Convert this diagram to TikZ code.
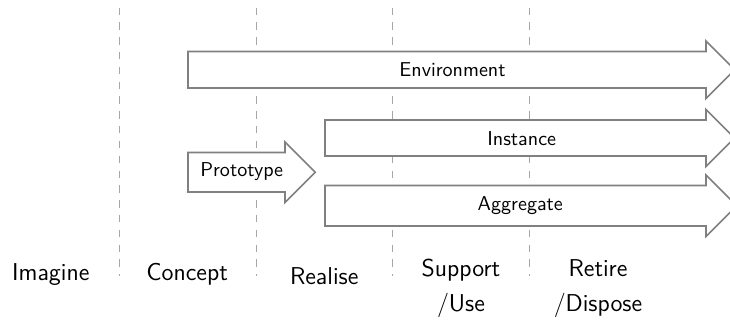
\documentclass[tikz,border=0pt]{standalone}
\usepackage{fontspec}
\begin{document}
\begin{tikzpicture}[x=0.5128pt,y=-0.5128pt,
  phaseline/.style={draw=black!35, line width=0.5pt, dash pattern=on 3.8pt off 3.8pt},
  lifearrow/.style={draw=black!50, fill=white, line width=0.8pt, line join=miter},
  boxtext/.style={font=\sffamily\fontsize{10.3}{12}\selectfont, inner sep=0pt, anchor=base},
  phasetext/.style={font=\sffamily\fontsize{12.5}{18}\selectfont, inner sep=0pt, anchor=base, align=center}]
\useasboundingbox (0,0) rectangle (730,323);
\clip (0,0) rectangle (730,323);
% phase separators
\foreach \px/\nm in {119/a,256/b,392/c,529/d}{
  \coordinate (top\nm) at (\px,7.5);
  \coordinate (bot\nm) at (\px,276);
  \draw[phaseline] (top\nm) -- (bot\nm);
}
\newcommand\lifearrowpath[4]{%
  \draw[lifearrow] (#1,#3) -- (#2,#3) -- (#2,#3-10.5)
    -- ({#2+(#4-#3)/2+10.5},{(#3+#4)/2}) -- (#2,#4+10.5) -- (#2,#4) -- (#1,#4) -- cycle;}
\lifearrowpath{188}{706}{51.5}{88}
\lifearrowpath{325}{706}{120}{156}
\lifearrowpath{325}{706}{185.5}{226}
\lifearrowpath{188}{285}{152.5}{192}
\node[boxtext] (env) at (452.5,76) {Environment};
\node[boxtext] (inst) at (521.7,145.7) {Instance};
\node[boxtext] (aggr) at (520.3,210.7) {Aggregate};
\node[boxtext] (proto) at (241.7,176.7) {Prototype};
\node[phasetext] (imagine) at (50.8,280.7) {Imagine};
\node[phasetext] (concept) at (187.2,280.7) {Concept};
\node[phasetext] (realise) at (324.2,284) {Realise};
\node[phasetext] (support) at (461,311.7) {Support\\/Use};
\node[phasetext] (retire) at (598,311.7) {Retire\\/Dispose};
\end{tikzpicture}
\end{document}
